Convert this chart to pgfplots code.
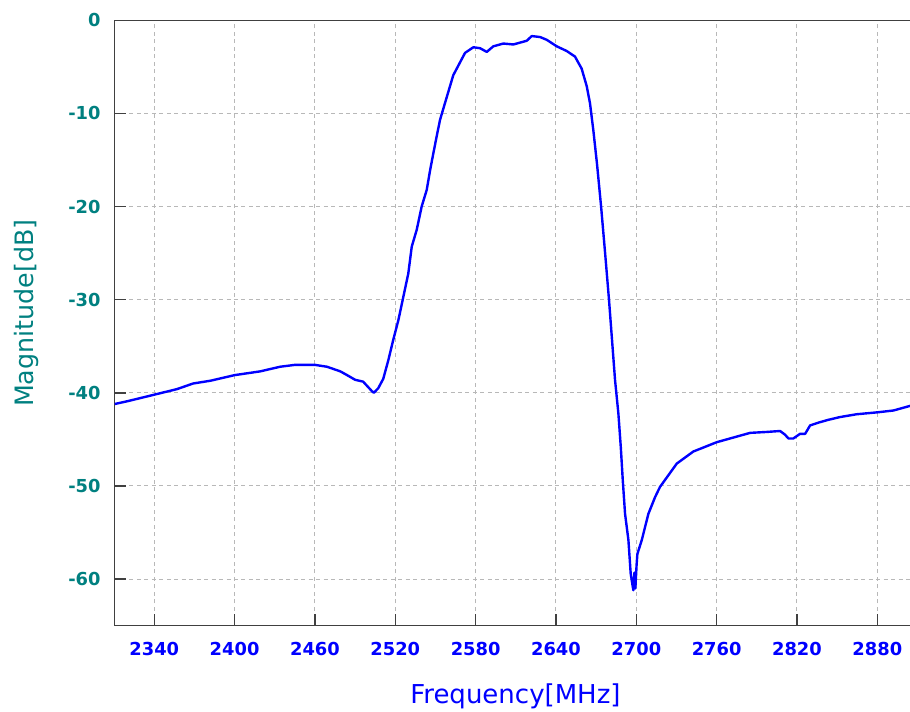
\documentclass[border=0pt]{standalone}
\usepackage{fontspec}
\setmainfont{DejaVu Sans}
\usepackage{pgfplots}
\pgfplotsset{compat=1.18}
\definecolor{tealc}{RGB}{0,128,128}
\definecolor{axisgray}{RGB}{64,64,64}
\definecolor{curveblue}{RGB}{0,0,255}
\begin{document}
\begin{tikzpicture}
\begin{axis}[
  scale only axis, width=596.6pt, height=454.05pt,
  xmin=2310.3, xmax=2904.4, ymin=-65, ymax=0,
  axis y line*=left, y axis line style={-},
  axis line style={axisgray, line width=1.1pt},
  xtick={2340,2400,2460,2520,2580,2640,2700,2760,2820,2880},
  xticklabels={2340,2400,2460,2520,2580,2640,2700,2760,2820,2880},
  ytick={-60,-50,-40,-30,-20,-10,0},
  yticklabels={-60,-50,-40,-30,-20,-10,0},
  xtick pos=bottom, ytick pos=left,
  tick align=inside,
  major tick length=8.6pt,
  every tick/.style={axisgray, line width=1.1pt},
  grid=major,
  major grid style={dash pattern=on 3pt off 2.6pt, black!28, line width=0.75pt},
  tick label style={font=\fontsize{13.4pt}{15pt}\selectfont\bfseries},
  xticklabel style={text=curveblue, yshift=-8.6pt},
  yticklabel style={text=tealc, xshift=-6.9pt},
  xlabel={Frequency[MHz]}, ylabel={Magnitude[dB]},
  xlabel style={font=\fontsize{19.5pt}{22pt}\selectfont, text=curveblue, at={(axis description cs:0.504,-0.1293)}, anchor=base},
  ylabel style={font=\fontsize{19pt}{22pt}\selectfont, text=tealc, at={(axis description cs:-0.10245,0.516)}, anchor=base},
]
\addplot[curveblue, line width=1.8pt, line join=round] table {
x y
2310.5 -41.2
2320 -40.9
2340 -40.2
2357 -39.6
2369 -39.0
2382 -38.7
2400 -38.1
2419 -37.7
2434 -37.2
2445 -37.0
2460 -37.0
2469 -37.2
2479 -37.7
2484 -38.1
2490 -38.6
2496 -38.8
2502.4 -39.8
2504 -40.0
2507.3 -39.5
2511 -38.5
2514.8 -36.5
2518.5 -34.3
2522.3 -32.2
2526 -29.7
2529.7 -27.2
2532.3 -24.3
2536 -22.5
2539.7 -20.0
2543.5 -18.2
2546 -16.1
2548.4 -14.3
2551 -12.4
2553.4 -10.7
2557.1 -8.9
2563.3 -5.9
2572.1 -3.5
2578.3 -2.9
2583.3 -3.0
2588.3 -3.4
2593.2 -2.8
2600.7 -2.5
2608.2 -2.6
2613.2 -2.4
2618.2 -2.2
2621.9 -1.7
2628.1 -1.8
2633.1 -2.1
2640.6 -2.8
2648 -3.3
2654.2 -3.9
2659.2 -5.2
2663 -7.1
2665.4 -8.9
2667.9 -11.8
2670.7 -15.5
2673.7 -20.0
2676.7 -25.0
2679.6 -30.0
2684.1 -38.6
2686.6 -42.2
2688.4 -45.8
2689.9 -49.4
2691.6 -53.0
2694.1 -55.8
2695.8 -59.4
2697 -60.5
2697.8 -61.2
2698.6 -59.3
2699.3 -61.0
2700.2 -58.5
2700.8 -57.3
2704.1 -55.8
2709 -53.0
2714 -51.2
2717.7 -50.1
2730.2 -47.6
2742.6 -46.3
2760.1 -45.3
2775 -44.7
2785 -44.3
2797.4 -44.2
2807.4 -44.1
2811.1 -44.5
2813.6 -44.9
2817.3 -44.9
2822.3 -44.4
2826.1 -44.4
2829.8 -43.5
2836 -43.2
2843.4 -42.9
2852.2 -42.6
2864.6 -42.3
2879.6 -42.1
2892 -41.9
2902 -41.5
2904.5 -41.4
};
\end{axis}
\pgfresetboundingbox
\path[use as bounding box] ([xshift=-85.875pt,yshift=-64pt]current axis.south west) rectangle ([yshift=15.2pt]current axis.north east);
\end{tikzpicture}
\end{document}
